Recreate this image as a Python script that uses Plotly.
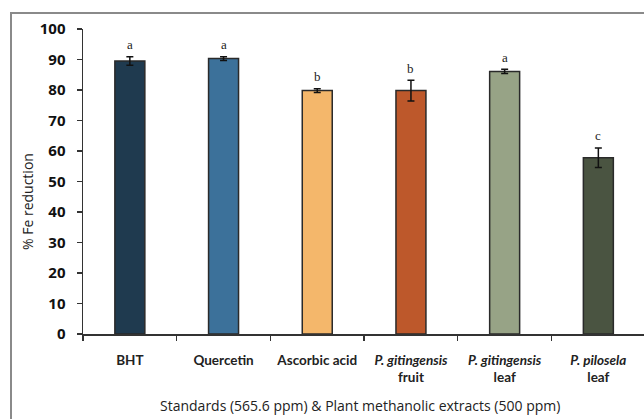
import plotly.graph_objects as go

categories = ["BHT", "Quercetin", "Ascorbic acid", "<i>P. gitingensis</i><br>fruit",
              "<i>P. gitingensis</i><br>leaf", "<i>P. pilosela</i><br>leaf"]
values = [89.5, 90.3, 79.8, 79.8, 86.1, 57.8]
errors = [1.4, 0.6, 0.6, 3.4, 0.7, 3.2]
letters = ["a", "a", "b", "b", "a", "c"]
colors = ["#1f3a4f", "#3c719a", "#f4b76b", "#bd582b", "#97a386", "#4a5441"]
yticks = [0, 10, 20, 30, 40, 50, 60, 70, 80, 90, 100]

# the original chart is cropped on its right side: the figure is a bit wider than the window
W, H = 654, 419
L, R, T, B = 83, 0, 29, 85
pw, ph = W - L - R, H - T - B


def px_x(x):
    return (x - L) / pw


def px_y(y):
    return (H - B - y) / ph


fig = go.Figure()
fig.add_trace(go.Bar(
    x=categories, y=values, width=0.32,
    marker=dict(color=colors, line=dict(color="#2a2a2a", width=1.5)),
    error_y=dict(type="data", array=errors, visible=True, color="#111111",
                 thickness=1.5, width=3.5),
    hoverinfo="skip",
))

for c, v, e, l in zip(categories, values, errors, letters):
    fig.add_annotation(x=c, y=v + e, text=l, showarrow=False, yanchor="middle",
                       yshift=12, font=dict(family="Liberation Serif", size=13, color="#222"))

fig.add_annotation(x=px_x(27), xref="paper", y=px_y(202), yref="paper", text="% Fe reduction",
                   textangle=-90, showarrow=False, xanchor="center", yanchor="middle",
                   font=dict(family="Open Sans", size=14, color="#222"))
fig.add_annotation(x=px_x(360), xref="paper", y=px_y(405), yref="paper",
                   text="Standards (565.6 ppm) & Plant methanolic extracts (500 ppm)",
                   showarrow=False, xanchor="center", yanchor="middle",
                   font=dict(family="Open Sans", size=14, color="#222"))

# chart-area frame (left + top edges)
fig.add_shape(type="path", xref="paper", yref="paper",
              path=f"M {px_x(11)},{px_y(H + 3)} L {px_x(11)},{px_y(13)} L {px_x(W + 3)},{px_y(13)}",
              line=dict(color="#8a8a8a", width=2), fillcolor="rgba(0,0,0,0)", layer="above")

span = pw / 93.7
fig.update_xaxes(
    type="category", range=[-0.5, -0.5 + span], tickson="boundaries",
    showline=True, linecolor="#333", linewidth=1.5, ticks="outside", ticklen=5,
    tickcolor="#333", tickwidth=1.3, showgrid=False, zeroline=False, mirror=False,
    ticklabelstandoff=13,
    tickfont=dict(family="Lato", size=13.5, color="#222", weight="bold"),
)
fig.update_yaxes(
    range=[0, 100], tickvals=yticks, showline=True, linecolor="#333", linewidth=1.5,
    ticks="outside", ticklen=5, tickcolor="#333", tickwidth=1.3, showgrid=False,
    zeroline=False, mirror=False, ticklabelstandoff=8,
    tickfont=dict(family="Open Sans", size=15, color="#111", weight="bold"),
)
fig.update_layout(
    width=W, height=H, margin=dict(l=L, r=R, t=T, b=B, autoexpand=False),
    plot_bgcolor="white", paper_bgcolor="white", showlegend=False, bargap=0,
    hovermode=False,
)
fig.write_html("out.html", config={"displayModeBar": False, "staticPlot": True})

with open("out.html", "r", encoding="utf-8") as f:
    html = f.read()
html = html.replace("<body>", '<body style="margin:0;padding:0;overflow:hidden">', 1)
with open("out.html", "w", encoding="utf-8") as f:
    f.write(html)
